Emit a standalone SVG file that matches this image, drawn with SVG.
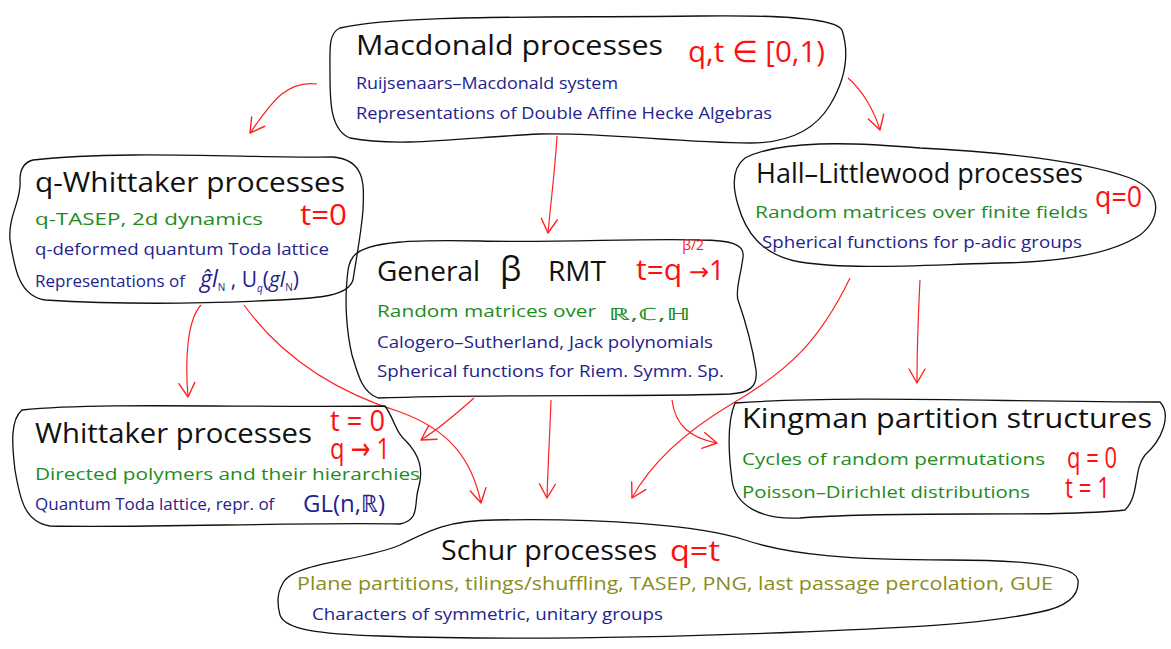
<svg xmlns="http://www.w3.org/2000/svg" width="1171" height="649" viewBox="0 0 1171 649">
<defs>
<style>
text{font-family:"Open Sans","Noto Sans","DejaVu Sans",sans-serif;}
.blob{fill:none;stroke:#111;stroke-width:1.3;stroke-linejoin:round}
.t{fill:#111;font-size:28px}
.g{fill:#1e8c1e;font-size:17px}
.b{fill:#23238c;font-size:17px}
.r{fill:#ff1010;font-size:30px}
.o{fill:#8c8c1a;font-size:18px}
.arr{fill:none;stroke:#ff2020;stroke-width:1.2;marker-end:url(#ah)}
</style>
<marker id="ah" viewBox="-16 -10 18 20" markerWidth="18" markerHeight="20" refX="0" refY="0" orient="auto" markerUnits="userSpaceOnUse">
<path d="M -14,-8 L 0,0 L -14,8" fill="none" stroke="#ff2020" stroke-width="1.4" stroke-linecap="round" stroke-linejoin="round"/>
</marker>
</defs>
<rect width="1171" height="649" fill="#fff"/>

<g id="connectors">
<path class="arr" d="M 317,84 C 285,80 270,105 250,133"/>
<path class="arr" d="M 848,78 C 862,90 874,110 880,130"/>
<path class="arr" d="M 557,136 C 555,170 551,200 548,233"/>
<path class="arr" d="M 201,305 C 187,320 185,360 188,397"/>
<path class="arr" d="M 244,305 C 280,355 330,390 400,412 C 450,430 472,460 481,503"/>
<path class="arr" d="M 474,398 C 455,415 440,428 421,440"/>
<path class="arr" d="M 551,400 C 550,430 548,465 547,498"/>
<path class="arr" d="M 672,400 C 675,425 690,438 717,443"/>
<path class="arr" d="M 850,278 C 820,340 790,370 730,405 C 680,435 650,465 632,498"/>
<path class="arr" d="M 920,280 C 918,320 917,350 917,383"/>
</g>

<g id="macdonald">
<path class="blob" d="M 340,28 C 400,14 550,18 700,16 C 780,15 835,18 842,30 C 850,55 845,80 830,105 C 815,130 790,143 750,143 C 680,143 600,132 540,134 C 470,137 400,148 350,138 C 330,130 330,100 330,75 C 330,50 328,33 340,28 Z"/>
<text class="t" x="356" y="55" font-size="29" textLength="307" lengthAdjust="spacingAndGlyphs">Macdonald processes</text>
<text class="r" x="688" y="62" font-size="34" textLength="137" lengthAdjust="spacingAndGlyphs">q,t ∈ [0,1)</text>
<text class="b" x="356" y="89" textLength="262" lengthAdjust="spacingAndGlyphs">Ruijsenaars–Macdonald system</text>
<text class="b" x="356" y="119" textLength="416" lengthAdjust="spacingAndGlyphs">Representations of Double Affine Hecke Algebras</text>
</g>

<g id="q-whittaker">
<path class="blob" d="M 33,160 C 120,150 250,158 333,157 C 366,160 364,185 363,210 C 361,235 356,260 353,280 C 348,296 320,298 280,300 C 200,304 110,304 45,300 C 18,296 14,265 10,240 C 8,215 22,200 20,180 C 20,168 25,162 33,160 Z"/>
<text class="t" x="35" y="192" textLength="310" lengthAdjust="spacingAndGlyphs">q-Whittaker processes</text>
<text class="r" x="300" y="225" textLength="47" lengthAdjust="spacingAndGlyphs">t=0</text>
<text class="g" x="35" y="225" textLength="228" lengthAdjust="spacingAndGlyphs">q-TASEP, 2d dynamics</text>
<text class="b" x="35" y="255" textLength="294" lengthAdjust="spacingAndGlyphs">q-deformed quantum Toda lattice</text>
<text class="b" x="35" y="287">Representations of <tspan x="200" font-size="23" font-style="italic">ĝl</tspan><tspan font-size="10" dy="4">N</tspan><tspan font-size="21" dy="-4"> , U</tspan><tspan font-size="10" font-style="italic" dy="5">q</tspan><tspan font-size="21" dy="-5">(</tspan><tspan font-size="21" font-style="italic">gl</tspan><tspan font-size="10" dy="4">N</tspan><tspan font-size="21" dy="-4">)</tspan></text>
</g>

<g id="hall-littlewood">
<path class="blob" d="M 745,158 C 780,140 850,142 920,148 C 1000,152 1080,160 1130,178 C 1165,192 1160,220 1140,235 C 1110,255 1060,262 1000,263 C 920,265 850,270 800,262 C 760,255 745,230 738,205 C 732,185 732,168 745,158 Z"/>
<text class="t" x="756" y="183" textLength="327" lengthAdjust="spacingAndGlyphs">Hall–Littlewood processes</text>
<text class="r" x="1095" y="207" font-size="32" textLength="47" lengthAdjust="spacingAndGlyphs">q=0</text>
<text class="g" x="755" y="218" textLength="333" lengthAdjust="spacingAndGlyphs">Random matrices over finite fields</text>
<text class="b" x="762" y="248" font-size="16" textLength="320" lengthAdjust="spacingAndGlyphs">Spherical functions for p-adic groups</text>
</g>

<g id="general-beta">
<path class="blob" d="M 353,257 C 365,240 420,240 480,241 C 560,243 640,238 700,240 C 730,240 745,244 743,257 C 741,275 735,290 738,300 C 745,320 752,345 756,370 C 758,388 748,393 730,394 C 640,397 500,394 378,398 C 362,392 358,375 352,355 C 346,330 345,300 347,280 C 348,268 349,262 353,257 Z"/>
<text class="t" x="377" y="281" font-size="30">General <tspan x="500" font-size="34">β</tspan><tspan x="548">RMT</tspan></text>
<text class="r" x="636" y="280" font-size="28">t=q<tspan font-size="14" dy="-30">β/2</tspan><tspan x="689" font-size="24" dy="30">→</tspan><tspan font-size="27">1</tspan></text>
<text class="g" x="377" y="317" font-size="18" textLength="219" lengthAdjust="spacingAndGlyphs">Random matrices over</text>
<text class="g" x="608" y="320" font-size="26" textLength="82" lengthAdjust="spacingAndGlyphs">ℝ,ℂ,ℍ</text>
<text class="b" x="377" y="348" textLength="336" lengthAdjust="spacingAndGlyphs">Calogero–Sutherland, Jack polynomials</text>
<text class="b" x="377" y="377" textLength="347" lengthAdjust="spacingAndGlyphs">Spherical functions for Riem. Symm. Sp.</text>
</g>

<g id="whittaker">
<path class="blob" d="M 22,410 C 100,402 250,408 385,406 C 395,420 395,432 405,440 C 420,455 424,470 418,490 C 414,505 420,520 400,524 C 300,522 150,528 50,526 C 25,522 20,500 15,470 C 12,445 10,420 22,410 Z"/>
<text class="t" x="35" y="443" textLength="277" lengthAdjust="spacingAndGlyphs">Whittaker processes</text>
<text class="r" x="330" y="431" font-size="19" textLength="55" lengthAdjust="spacingAndGlyphs">t = 0</text>
<text class="r" x="330" y="459" font-size="19" textLength="60" lengthAdjust="spacingAndGlyphs">q → 1</text>
<text class="g" x="35" y="480" font-size="19" textLength="385" lengthAdjust="spacingAndGlyphs">Directed polymers and their hierarchies</text>
<text class="b" x="35" y="510">Quantum Toda lattice, repr. of <tspan x="303" y="512" font-size="24">GL(n,ℝ)</tspan></text>
</g>

<g id="kingman">
<path class="blob" d="M 735,403 C 850,395 1000,402 1160,402 C 1172,415 1162,440 1145,455 C 1133,470 1140,495 1125,510 C 1050,518 900,510 800,518 C 760,520 735,505 732,480 C 728,450 728,420 735,403 Z"/>
<text class="t" x="742" y="428" textLength="410" lengthAdjust="spacingAndGlyphs">Kingman partition structures</text>
<text class="g" x="742" y="465" font-size="18" textLength="303" lengthAdjust="spacingAndGlyphs">Cycles of random permutations</text>
<text class="g" x="742" y="498" font-size="18" textLength="288" lengthAdjust="spacingAndGlyphs">Poisson–Dirichlet distributions</text>
<text class="r" x="1067" y="468" font-size="21" textLength="50" lengthAdjust="spacingAndGlyphs">q = 0</text>
<text class="r" x="1065" y="498" font-size="21" textLength="45" lengthAdjust="spacingAndGlyphs">t = 1</text>
</g>

<g id="schur">
<path class="blob" d="M 282,585 C 290,562 360,562 400,545 C 430,530 450,520 495,520 C 600,518 700,525 745,540 C 790,555 850,560 950,560 C 1020,560 1075,565 1078,580 C 1080,600 1060,608 1040,612 C 980,625 900,628 800,632 C 650,638 500,640 380,636 C 320,634 285,630 280,615 C 276,600 278,592 282,585 Z"/>
<text class="t" x="441" y="560" font-size="27" textLength="216" lengthAdjust="spacingAndGlyphs">Schur processes</text>
<text class="r" x="670" y="561" font-size="34" textLength="50" lengthAdjust="spacingAndGlyphs">q=t</text>
<text class="o" x="297" y="590" textLength="756" lengthAdjust="spacingAndGlyphs">Plane partitions, tilings/shuffling, TASEP, PNG, last passage percolation, GUE</text>
<text class="b" x="312" y="620" font-size="16" textLength="351" lengthAdjust="spacingAndGlyphs">Characters of symmetric, unitary groups</text>
</g>
</svg>
